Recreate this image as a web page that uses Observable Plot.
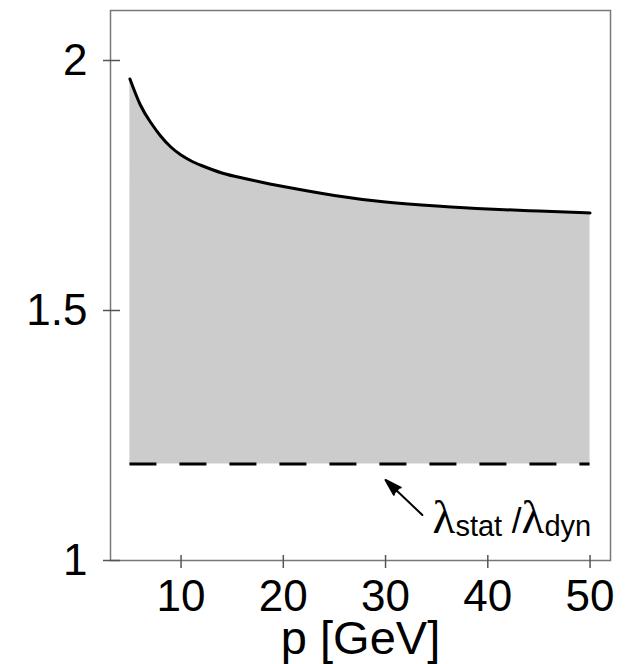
<!DOCTYPE html>
<html><head><meta charset="utf-8">
<script src="https://cdn.jsdelivr.net/npm/d3@7"></script>
<script src="https://cdn.jsdelivr.net/npm/@observablehq/plot@0.6"></script>
<style>body{margin:0;background:#fff}</style>
</head><body><div id="chart"></div>
<script>
// momentum grid (GeV) and the upper curve of the band
const momentum = [5, 6, 7, 8, 9, 10, 11, 12, 14, 16, 18, 20, 25, 30, 35, 40, 45, 50];
const ratio = [1.963, 1.912, 1.877, 1.849, 1.827, 1.811, 1.799, 1.790, 1.775, 1.765, 1.756, 1.748, 1.730, 1.717, 1.709, 1.703, 1.699, 1.695];
// lower edge of the band: static / dynamic ratio
const staticRatio = 1.193;
const xTicks = [10, 20, 30, 40, 50];
const yTicks = [1, 1.5, 2];
const yTickLabels = ["1", "1.5", "2"];
const xLabel = "p [GeV]";
// annotation: arrow (tail → tip) and label anchor
const noteArrow = [{p1: 33.6, v1: 1.091, p2: 30.0, v2: 1.161}];
const noteAnchor = [{p: 34.6, v: 1.055}];
const noteParts = [
  {t: "λ", sub: false}, {t: "stat", sub: true},
  {t: " /", sub: false, slash: true},
  {t: "λ", sub: false}, {t: "dyn", sub: true}
];
const NOTE_KEY = "__ratio_note__";

const curve = momentum.map((p, i) => ({p, v: ratio[i], lo: staticRatio}));
const [pStart, pEnd] = d3.extent(momentum);
const sans = "Liberation Sans, Arial, Helvetica, sans-serif";
const serif = "Liberation Serif, Times New Roman, serif";

const chart = Plot.plot({
  width: 625, height: 664,
  marginLeft: 110, marginRight: 15, marginTop: 10, marginBottom: 104,
  style: {fontFamily: sans, background: "#fff", color: "#000"},
  x: {domain: [3.1, 52], ticks: xTicks},
  y: {domain: [1, 2.1], ticks: yTicks},
  marks: [
    Plot.areaY(curve, {x: "p", y1: "lo", y2: "v", fill: "#cccccc", curve: "natural"}),
    Plot.ruleY([staticRatio], {x1: pStart, x2: pEnd, stroke: "#000", strokeWidth: 3, strokeDasharray: "27,23"}),
    Plot.line(curve, {x: "p", y: "v", stroke: "#000", strokeWidth: 3, curve: "natural"}),
    Plot.frame({stroke: "#777", strokeWidth: 1.5}),
    // ticks crossing the frame
    Plot.axisY(yTicks, {tickSize: 17, dx: 10, fill: "none", stroke: "#555", strokeWidth: 1.5, label: null}),
    Plot.axisX(xTicks, {tickSize: 13, dy: -5, fill: "none", stroke: "#555", strokeWidth: 1.5, label: null}),
    // tick labels
    Plot.axisY(yTicks, {tickSize: 0, tickPadding: 23, fontSize: 44, fontFamily: sans,
      tickFormat: (d) => yTickLabels[yTicks.indexOf(d)], label: null}),
    Plot.axisX(xTicks, {tickSize: 0, tickPadding: 19, fontSize: 44, fontFamily: sans,
      label: xLabel, labelAnchor: "center", labelArrow: "none", labelOffset: 93}),
    Plot.arrow(noteArrow, {x1: "p1", y1: "v1", x2: "p2", y2: "v2", stroke: "#000", fill: "#000",
      strokeWidth: 2, headLength: 18, headAngle: 34}),
    Plot.text(noteAnchor, {x: "p", y: "v", text: () => NOTE_KEY, textAnchor: "start", lineAnchor: "bottom",
      fontSize: 29, fontFamily: sans, fill: "#000"})
  ]
});

// build the λ_stat / λ_dyn label with subscripts
d3.select(chart).selectAll("text")
  .filter(function () { return this.textContent === NOTE_KEY; })
  .each(function () {
    const noteText = d3.select(this);
    noteText.text(null);
    let shifted = false;
    for (const part of noteParts) {
      const ts = noteText.append("tspan").text(part.t);
      if (part.sub) {
        ts.attr("font-size", 29).attr("font-family", sans).attr("dy", shifted ? 0 : 3);
        shifted = true;
      } else {
        ts.attr("font-size", part.slash ? 35 : 47)
          .attr("font-family", part.slash ? sans : serif)
          .attr("dy", shifted ? -3 : 0);
        shifted = false;
      }
    }
  });

// axis title slightly larger than the tick labels
d3.select(chart).selectAll("text")
  .filter(function () { return this.textContent === xLabel; })
  .attr("font-size", 47);

document.getElementById("chart").appendChild(chart);
</script>
</body></html>
